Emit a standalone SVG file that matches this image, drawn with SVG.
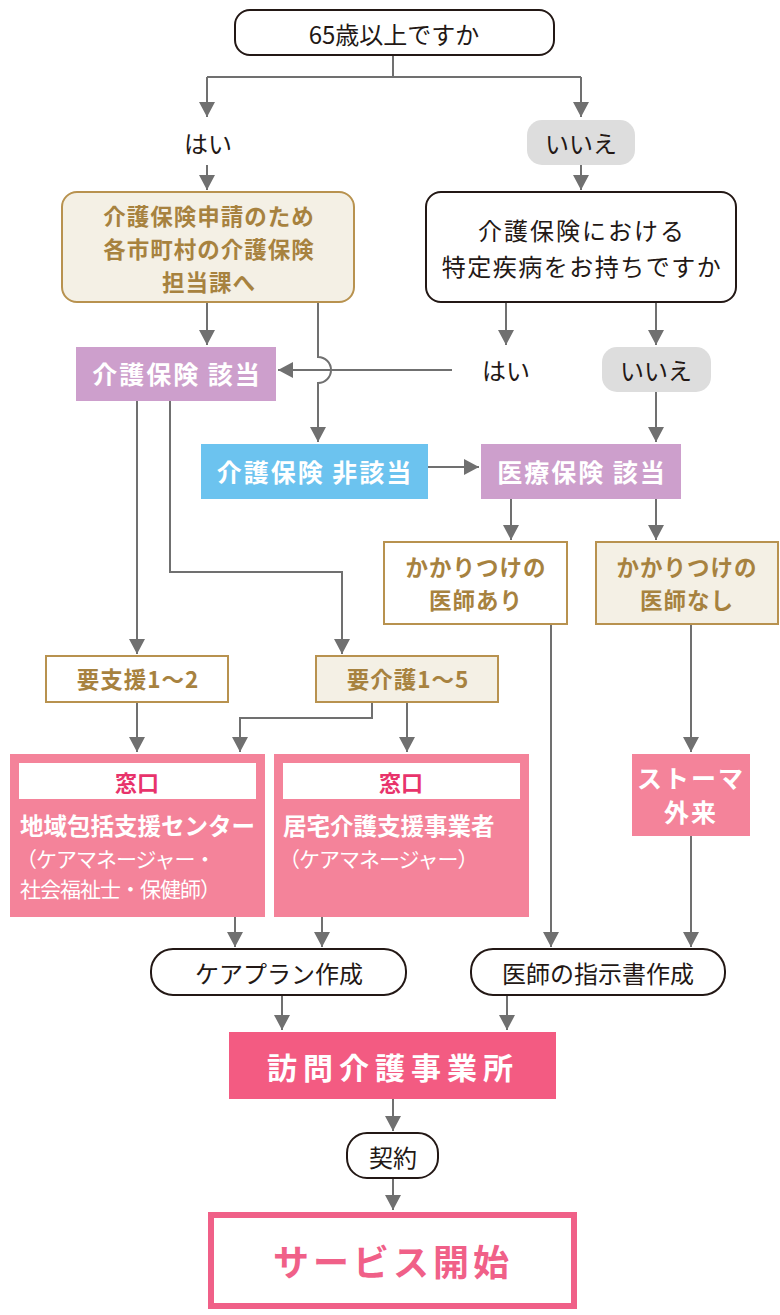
<svg xmlns="http://www.w3.org/2000/svg" width="780" height="1315" viewBox="0 0 780 1315">
<defs>
<marker id="ah" markerUnits="userSpaceOnUse" markerWidth="16" markerHeight="16" refX="15" refY="8" orient="auto"><path d="M0,0 L15,8 L0,16 z" fill="#707070"/></marker>
<style>
text{font-family:"Noto Sans CJK JP","Noto Sans",sans-serif;text-anchor:middle;dominant-baseline:central}
.con path{fill:none;stroke:#707070;stroke-width:2}
.q{fill:#fff;stroke:#231815;stroke-width:2}
.tanF{fill:#f4f0e5;stroke:#b8924f;stroke-width:2}
.tanW{fill:#fff;stroke:#b8924f;stroke-width:2}
.tt{fill:#a7823f;font-weight:700;font-size:22.5px;letter-spacing:1px}
.bk{fill:#231815;font-size:24px}
.wb{fill:#fff;font-weight:700;font-size:25px;letter-spacing:2px}
.pink{fill:#f4839a}
.wn{fill:#fff;font-size:21px;text-anchor:start;letter-spacing:-1px}
.wl{fill:#fff;font-weight:700;font-size:23.5px;text-anchor:start}
.mado{fill:#e8336b;font-weight:700;font-size:22px}
</style>
</defs>
<g class="con">
<path d="M393,55 V77 M207,77 H581"/>
<path d="M207,77 V117" marker-end="url(#ah)"/>
<path d="M581,77 V117" marker-end="url(#ah)"/>
<path d="M207,165 V190" marker-end="url(#ah)"/>
<path d="M581,165 V190" marker-end="url(#ah)"/>
<path d="M207,302 V345" marker-end="url(#ah)"/>
<path d="M318,302 V357 A13,13 0 0 1 318,383 V442" marker-end="url(#ah)"/>
<path d="M506,302 V345" marker-end="url(#ah)"/>
<path d="M656,302 V345" marker-end="url(#ah)"/>
<path d="M452,370 H278" marker-end="url(#ah)"/>
<path d="M656,392 V442" marker-end="url(#ah)"/>
<path d="M428,467 H479" marker-end="url(#ah)"/>
<path d="M511,499 V540" marker-end="url(#ah)"/>
<path d="M656,499 V540" marker-end="url(#ah)"/>
<path d="M137,401 V654" marker-end="url(#ah)"/>
<path d="M170,401 V572 H342 V654" marker-end="url(#ah)"/>
<path d="M137,702 V752" marker-end="url(#ah)"/>
<path d="M372,702 V718 H240 V752" marker-end="url(#ah)"/>
<path d="M407,702 V752" marker-end="url(#ah)"/>
<path d="M551,624 V947" marker-end="url(#ah)"/>
<path d="M691,624 V752" marker-end="url(#ah)"/>
<path d="M691,836 V947" marker-end="url(#ah)"/>
<path d="M235,917 V947" marker-end="url(#ah)"/>
<path d="M322,917 V947" marker-end="url(#ah)"/>
<path d="M282,995 V1030" marker-end="url(#ah)"/>
<path d="M507,995 V1030" marker-end="url(#ah)"/>
<path d="M393,1099 V1131" marker-end="url(#ah)"/>
<path d="M393,1178 V1210" marker-end="url(#ah)"/>
</g>
<g id="q65"><rect class="q" x="235" y="10" width="319" height="45" rx="15"/><text class="bk" x="394" y="33">65歳以上ですか</text></g>
<g id="yes1"><rect x="154" y="120" width="108" height="45" rx="15" fill="#fff"/><text class="bk" x="208" y="142" font-size="21">はい</text></g>
<g id="no1"><rect x="527" y="120" width="108" height="45" rx="15" fill="#dddddd"/><text class="bk" x="581" y="142" font-size="21">いいえ</text></g>
<g id="apply"><rect class="tanF" x="62" y="192" width="292" height="110" rx="15"/><text class="tt" x="209" y="215" font-size="23" letter-spacing="4">介護保険申請のため</text><text class="tt" x="209" y="248" font-size="23" letter-spacing="4">各市町村の介護保険</text><text class="tt" x="209" y="281" font-size="23" letter-spacing="4">担当課へ</text></g>
<g id="q2"><rect class="q" x="426" y="192" width="310" height="110" rx="15"/><text class="bk" x="582" y="229" font-size="24.5" letter-spacing="2">介護保険における</text><text class="bk" x="582" y="265" font-size="24.5" letter-spacing="1.5">特定疾病をお持ちですか</text></g>
<g id="kaigoY"><rect x="76" y="347" width="200" height="54" fill="#cd9fcc"/><text class="wb" x="177" y="373">介護保険 該当</text></g>
<g id="yes2"><rect x="452" y="347" width="108" height="45" rx="15" fill="#fff"/><text class="bk" x="506" y="369" font-size="21">はい</text></g>
<g id="no2"><rect x="602" y="347" width="109" height="45" rx="15" fill="#dddddd"/><text class="bk" x="656" y="369" font-size="21">いいえ</text></g>
<g id="kaigoN"><rect x="201" y="444" width="227" height="55" fill="#6cc3ef"/><text class="wb" x="315" y="471">介護保険 非該当</text></g>
<g id="iryo"><rect x="481" y="444" width="200" height="55" fill="#cd9fcc"/><text class="wb" x="582" y="471">医療保険 該当</text></g>
<g id="doc1"><rect class="tanW" x="384" y="542" width="183" height="82"/><text class="tt" x="476" y="566">かかりつけの</text><text class="tt" x="476" y="599">医師あり</text></g>
<g id="doc0"><rect class="tanF" x="596" y="542" width="182" height="82"/><text class="tt" x="687" y="566">かかりつけの</text><text class="tt" x="687" y="599">医師なし</text></g>
<g id="shien"><rect class="tanW" x="46" y="656" width="182" height="46"/><text class="tt" x="138" y="678" font-size="24" letter-spacing="2">要支援1～2</text></g>
<g id="kaigo"><rect class="tanF" x="316" y="656" width="182" height="46"/><text class="tt" x="408" y="678" font-size="24" letter-spacing="2">要介護1～5</text></g>
<g id="chiiki"><rect class="pink" x="10" y="754" width="255" height="163"/><rect x="19" y="763" width="237" height="36" fill="#fff"/><text class="mado" x="137" y="781">窓口</text><text class="wl" x="20" y="825">地域包括支援センター</text><text class="wn" x="16" y="858">（ケアマネージャー・</text><text class="wn" x="20" y="888">社会福祉士・保健師）</text></g>
<g id="kyotaku"><rect class="pink" x="274" y="754" width="255" height="163"/><rect x="283" y="763" width="237" height="36" fill="#fff"/><text class="mado" x="401" y="781">窓口</text><text class="wl" x="283" y="825">居宅介護支援事業者</text><text class="wn" x="279" y="858">（ケアマネージャー）</text></g>
<g id="stoma"><rect class="pink" x="632" y="754" width="118" height="82"/><text class="wb" x="691" y="777" font-size="21" letter-spacing="-0.5">ストーマ</text><text class="wb" x="691" y="811" font-size="21" letter-spacing="0">外来</text></g>
<g id="plan"><rect class="q" x="151" y="949" width="255" height="46" rx="22"/><text class="bk" x="279" y="972" font-size="23">ケアプラン作成</text></g>
<g id="shiji"><rect class="q" x="471" y="949" width="254" height="46" rx="22"/><text class="bk" x="598" y="972" font-size="23">医師の指示書作成</text></g>
<g id="houmon"><rect x="229" y="1032" width="327" height="67" fill="#f35b82"/><text x="393" y="1066" fill="#fff" font-weight="700" font-size="30" letter-spacing="6">訪問介護事業所</text></g>
<g id="keiyaku"><rect class="q" x="347" y="1133" width="91" height="45" rx="20"/><text class="bk" x="393" y="1156">契約</text></g>
<g id="start"><rect x="211" y="1215" width="363" height="91" fill="#fff" stroke="#f06088" stroke-width="6"/><text x="393" y="1260" fill="#f06088" font-weight="700" font-size="36" letter-spacing="4">サービス開始</text></g>
</svg>
